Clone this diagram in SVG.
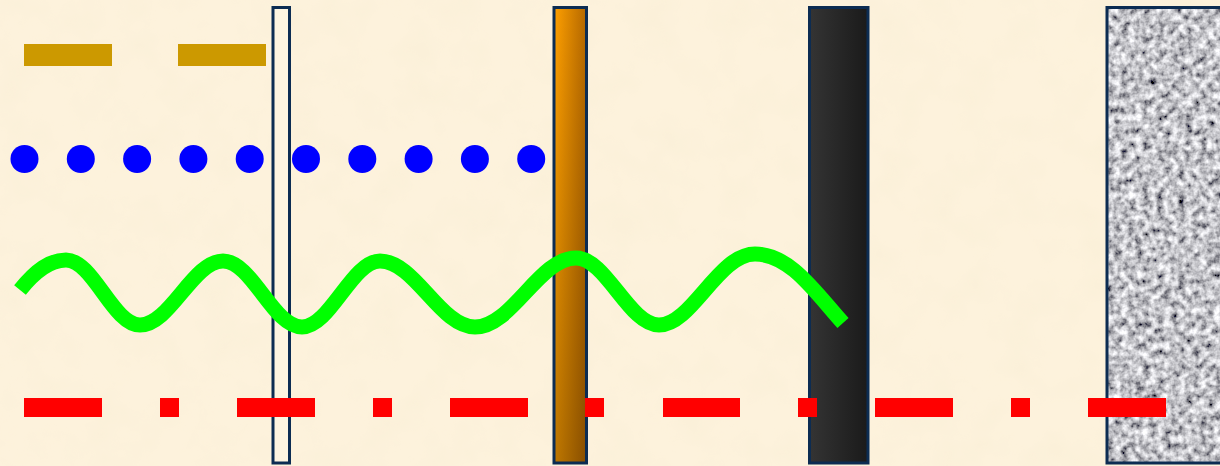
<svg xmlns="http://www.w3.org/2000/svg" width="1220" height="466" viewBox="0 0 1220 466">
  <defs>
    <style>
      .slab { stroke: #0c2c52; stroke-width: 3; }
      .gold { fill: #cc9900; }
      .dot { fill: #0000ff; }
      .red { fill: #ff0000; }
      .wave { fill: none; stroke: #00ff00; stroke-width: 15; stroke-linecap: butt; stroke-linejoin: round; }
    </style>
    <linearGradient id="orangeH" x1="0" y1="0" x2="1" y2="0">
      <stop offset="0" stop-color="#ffa000"/>
      <stop offset="1" stop-color="#b46800"/>
    </linearGradient>
    <linearGradient id="shadeV" x1="0" y1="0" x2="0" y2="1">
      <stop offset="0" stop-color="#000" stop-opacity="0"/>
      <stop offset="1" stop-color="#000" stop-opacity="0.25"/>
    </linearGradient>
    <linearGradient id="blackH" x1="0" y1="0" x2="1" y2="0">
      <stop offset="0" stop-color="#343434"/>
      <stop offset="1" stop-color="#1a1a1a"/>
    </linearGradient>
    <filter id="grain" x="0" y="0" width="1" height="1" filterUnits="objectBoundingBox">
      <feTurbulence type="fractalNoise" baseFrequency="0.14" numOctaves="3" seed="4" result="n"/>
      <feColorMatrix in="n" type="matrix" values="1.6 0 0 0 -0.25  1.6 0 0 0 -0.25  1.6 0 0 0 -0.22  0 0 0 0 1" result="g"/>
      <feGaussianBlur in="g" stdDeviation="0.5" result="b"/>
      <feComposite in="b" in2="SourceGraphic" operator="in"/>
    </filter>
    <filter id="paper" x="0" y="0" width="1" height="1" filterUnits="objectBoundingBox">
      <feTurbulence type="fractalNoise" baseFrequency="0.025" numOctaves="3" seed="7" result="n"/>
      <feColorMatrix in="n" type="matrix" values="0 0 0 0 0.9  0 0 0 0 0.82  0 0 0 0 0.62  0.5 0 0 0 -0.2" result="c"/>
      <feComposite in="c" in2="SourceGraphic" operator="in"/>
    </filter>
  </defs>

  <g id="background">
    <rect x="0" y="0" width="1220" height="466" fill="#fdf2dc"/>
    <rect x="0" y="0" width="1220" height="466" fill="#fff" filter="url(#paper)"/>
  </g>

  <g id="paper-sheet">
    <rect class="slab" x="273" y="7.5" width="16.5" height="455.5" fill="#fdf4e0"/>
  </g>

  <g id="aluminium-sheet">
    <rect x="554" y="7.5" width="32.5" height="455.5" fill="url(#orangeH)"/>
    <rect x="554" y="7.5" width="32.5" height="455.5" fill="url(#shadeV)"/>
    <rect class="slab" x="554" y="7.5" width="32.5" height="455.5" fill="none"/>
  </g>

  <g id="lead-block">
    <rect class="slab" x="809.5" y="7.5" width="58.5" height="455.5" fill="url(#blackH)"/>
  </g>

  <g id="concrete-block">
    <rect x="1107" y="7.5" width="120" height="455.5" fill="#fff" filter="url(#grain)"/>
    <rect class="slab" x="1107" y="7.5" width="120" height="455.5" fill="none"/>
  </g>

  <g id="alpha-ray">
    <rect class="gold" x="24" y="44" width="88" height="22"/>
    <rect class="gold" x="178" y="44" width="88" height="22"/>
  </g>

  <g id="beta-ray">
    <circle class="dot" cx="24.5" cy="159" r="14"/>
    <circle class="dot" cx="80.8" cy="159" r="14"/>
    <circle class="dot" cx="137.1" cy="159" r="14"/>
    <circle class="dot" cx="193.4" cy="159" r="14"/>
    <circle class="dot" cx="249.7" cy="159" r="14"/>
    <circle class="dot" cx="306" cy="159" r="14"/>
    <circle class="dot" cx="362.3" cy="159" r="14"/>
    <circle class="dot" cx="418.6" cy="159" r="14"/>
    <circle class="dot" cx="474.9" cy="159" r="14"/>
    <circle class="dot" cx="531.2" cy="159" r="14"/>
  </g>

  <g id="gamma-ray">
    <path class="wave" d="M20,290 C36,270 50,260 66,260 C93,260 113,325 140,325 C170,325 193,261 223,261 C252,261 273,327 302,327 C330,327 352,261 380,261 C415,261 440,327 475,327 C512,327 539,258 576,258 C606,258 629,325 659,325 C692,325 718,254 755,254 C790,254 815,292 843,323"/>
  </g>

  <g id="neutron-ray">
    <rect class="red" x="24" y="398" width="78" height="19"/>
    <rect class="red" x="160" y="398" width="19" height="19"/>
    <rect class="red" x="237" y="398" width="78" height="19"/>
    <rect class="red" x="373" y="398" width="19" height="19"/>
    <rect class="red" x="450" y="398" width="78" height="19"/>
    <rect class="red" x="585" y="398" width="19" height="19"/>
    <rect class="red" x="663" y="398" width="77" height="19"/>
    <rect class="red" x="798" y="398" width="19" height="19"/>
    <rect class="red" x="875" y="398" width="78" height="19"/>
    <rect class="red" x="1011" y="398" width="19" height="19"/>
    <rect class="red" x="1088" y="398" width="78" height="19"/>
  </g>
</svg>
